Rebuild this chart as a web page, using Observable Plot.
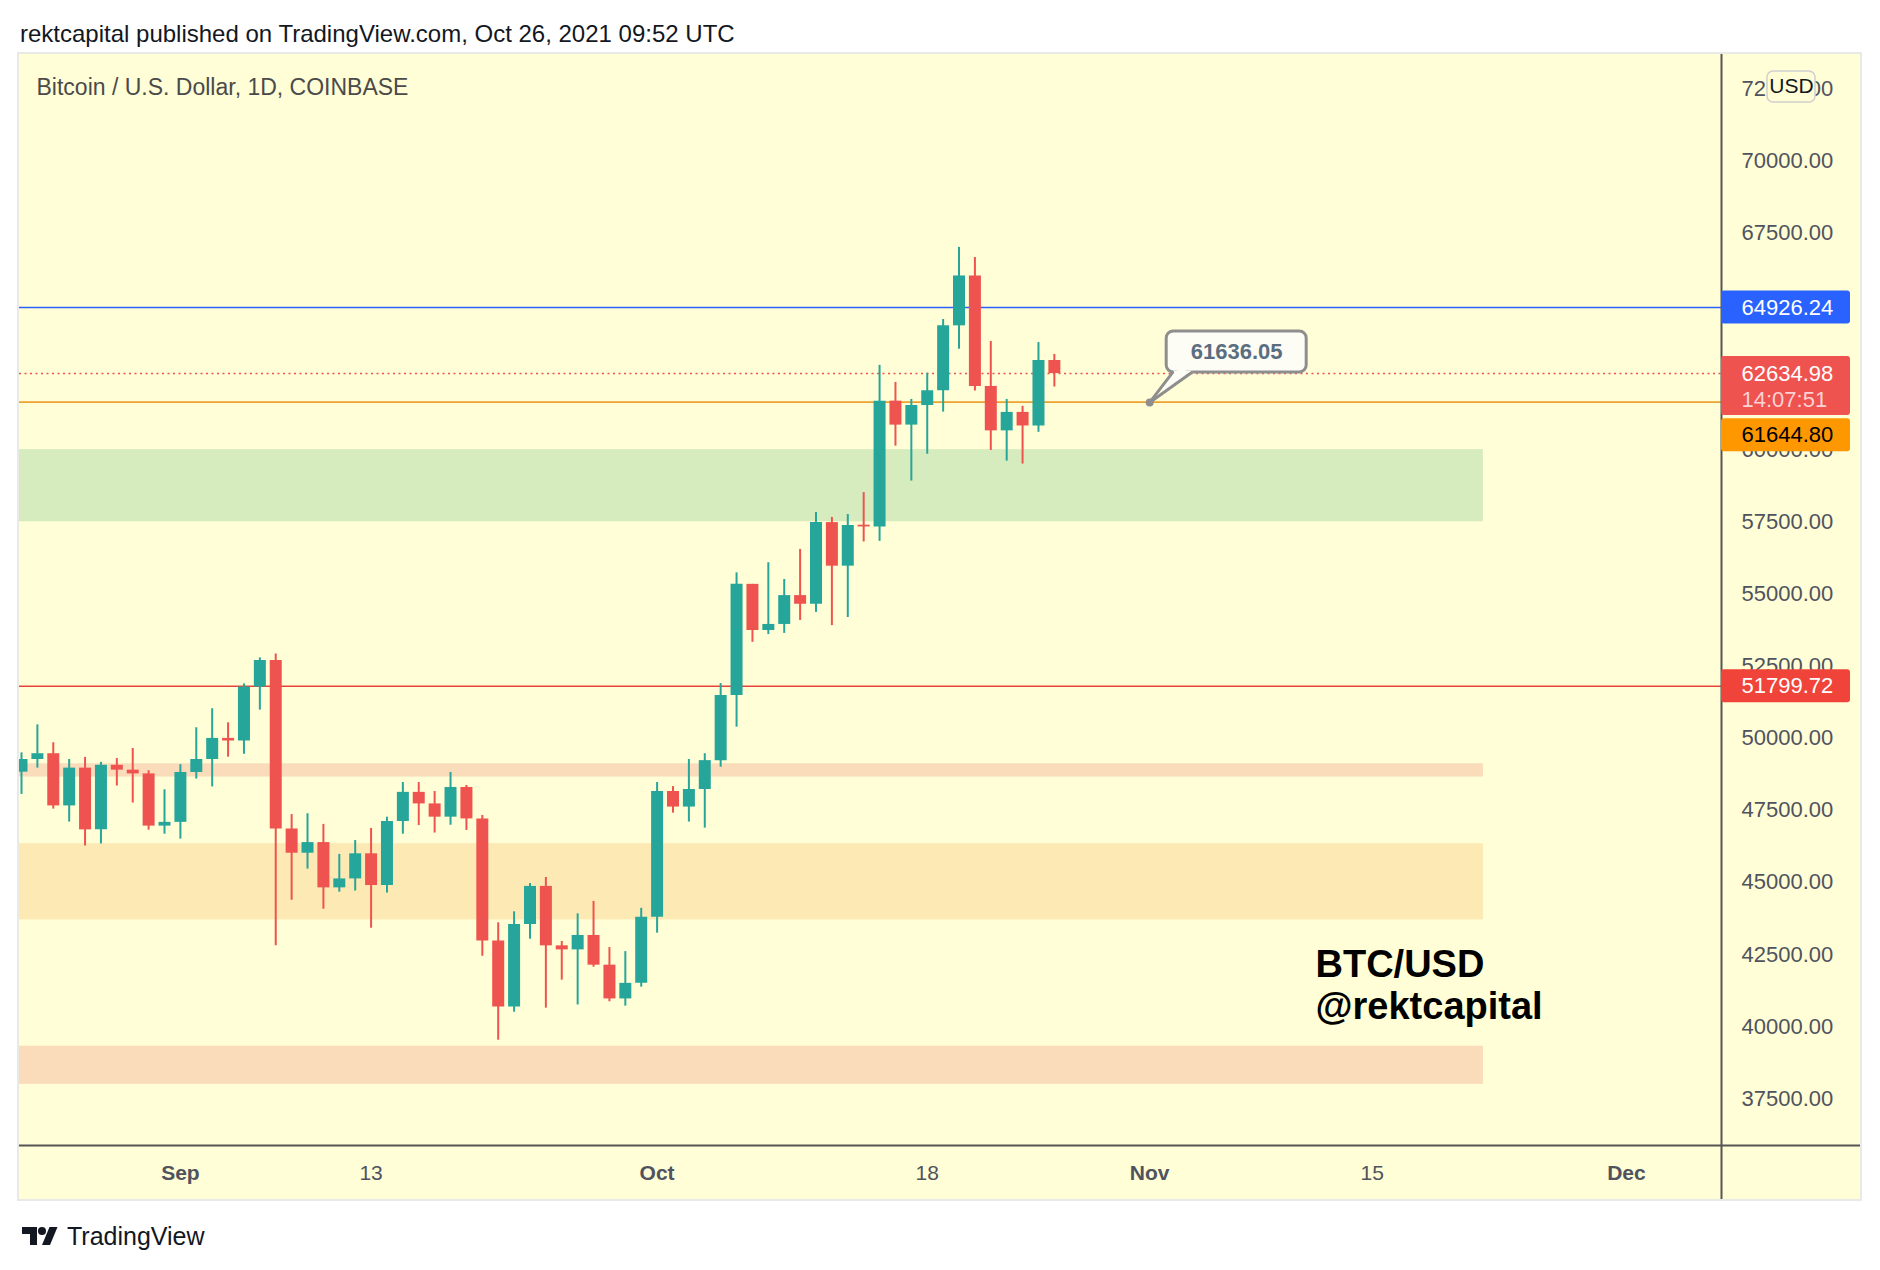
<!DOCTYPE html>
<html><head><meta charset="utf-8">
<script src="https://cdn.jsdelivr.net/npm/d3@7"></script>
<script src="https://cdn.jsdelivr.net/npm/@observablehq/plot@0.6"></script>
<style>
html,body{margin:0;padding:0;background:#fff;}
body{width:1880px;height:1270px;position:relative;overflow:hidden;font-family:"Liberation Sans",Arial,sans-serif;}
#title{position:absolute;left:20px;top:20px;font-size:24px;line-height:28px;color:#131722;white-space:nowrap;}
#chart{position:absolute;left:19px;top:54px;}
#chart svg{display:block;background:#fffed6;box-shadow:0 0 0 2px #e9e9e6;overflow:hidden;}
#footer{position:absolute;left:20px;top:1222px;display:flex;align-items:center;gap:7px;font-size:25px;line-height:28px;color:#131722;}
</style></head><body>
<div id="title">rektcapital published on TradingView.com, Oct 26, 2021 09:52 UTC</div>
<div id="chart"></div>
<div id="footer"><svg width="40" height="18" viewBox="0 4 36 18"><path d="M0 4h15v18h-7V11H0z" fill="#131722"/><circle cx="20" cy="8" r="4" fill="#131722"/><path d="M27.5 4h8L28 22h-8z" fill="#131722"/></svg><span>TradingView</span></div>
<script>
// ---- data ----
const dates = ["2021-08-22","2021-08-23","2021-08-24","2021-08-25","2021-08-26","2021-08-27","2021-08-28","2021-08-29","2021-08-30","2021-08-31",
"2021-09-01","2021-09-02","2021-09-03","2021-09-04","2021-09-05","2021-09-06","2021-09-07","2021-09-08","2021-09-09","2021-09-10",
"2021-09-11","2021-09-12","2021-09-13","2021-09-14","2021-09-15","2021-09-16","2021-09-17","2021-09-18","2021-09-19","2021-09-20",
"2021-09-21","2021-09-22","2021-09-23","2021-09-24","2021-09-25","2021-09-26","2021-09-27","2021-09-28","2021-09-29","2021-09-30",
"2021-10-01","2021-10-02","2021-10-03","2021-10-04","2021-10-05","2021-10-06","2021-10-07","2021-10-08","2021-10-09","2021-10-10",
"2021-10-11","2021-10-12","2021-10-13","2021-10-14","2021-10-15","2021-10-16","2021-10-17","2021-10-18","2021-10-19","2021-10-20",
"2021-10-21","2021-10-22","2021-10-23","2021-10-24","2021-10-25","2021-10-26"];
const opens = [48820,49260,49460,47650,48960,46820,49060,48890,48760,46950,
47080,48810,49260,49990,49900,51770,52690,46850,46010,46380,
44810,45120,45990,44890,47110,48120,47720,47260,48290,47200,
42970,40680,43540,44860,42800,42660,43160,42130,40960,41500,
43790,48150,47610,48220,49220,51480,55330,53730,53940,54940,
54640,57470,55960,57380,57320,61680,60850,61530,62040,64290,
66020,62190,60650,61290,60820,63090];
const highs = [49490,50460,49840,49260,49330,49160,49290,49640,48870,48210,
49080,50360,51020,50530,51880,52780,52920,47350,47380,47010,
45970,46450,46870,47260,48460,48460,48150,48810,48360,47320,
43600,43980,44960,45170,42950,43910,44340,42740,42600,44100,
48460,48320,49260,49460,51890,55730,55330,56080,55500,56540,
57820,57650,57750,58510,62920,62330,61740,62650,64510,67010,
66660,63750,61740,61500,63710,63300];
const lows = [48050,48960,47540,47090,46260,46330,48340,47750,46810,46670,
46500,48580,48310,49340,49440,50970,42800,44380,45460,44070,
44660,44700,43410,44630,46670,46970,46710,46980,46800,42440,
39530,40500,43030,40640,41610,40750,42060,40860,40710,41370,
43240,47400,47090,46880,48990,50380,53320,53590,53630,54080,
54360,53900,54180,56800,56820,60120,58910,59840,61300,63480,
62030,59970,59600,59500,60600,62170];
const closes = [49260,49460,47650,48960,46820,49060,48890,48760,46950,47080,
48810,49260,49990,49900,51770,52690,46850,46010,46380,44810,
45120,45990,44890,47110,48120,47720,47260,48290,47200,42970,
40680,43540,44860,42800,42660,43160,42130,40960,41500,43790,
48150,47610,48220,49220,51480,55330,53730,53940,54940,54640,
57470,55960,57370,57320,61680,60850,61530,62040,64290,66020,
62190,60650,61290,60820,63090,62634.98];

// price ticks shown by the reference (62500 and 65000 are hidden behind price labels there)
const yTicks = [37500,40000,42500,45000,47500,50000,52500,55000,57500,60000,67500,70000,72500];
const monthTicks = ["2021-09-01","2021-10-01","2021-11-01","2021-12-01"];
const dayTicks = ["2021-09-13","2021-10-18","2021-11-15"];

const zoneLow  = [57500, 48650, 43700, 38000];
const zoneHigh = [60000, 49110, 46340, 39320];
const zoneKind = ["support","thin","range","thin"];
const zoneEnd = "2021-11-22";

const levelValues = [64926.24, 51799.72, 61644.80];
const levelKind = ["blue","red","orange"];
const lastPrice = 62634.98;
const countdown = "14:07:51";
const calloutDate = "2021-11-01";
const calloutPrice = 61636.05;
const chartTitle = "Bitcoin / U.S. Dollar, 1D, COINBASE";
const watermark = ["BTC/USD", "@rektcapital"];

// ---- styles ----
const UP = "#26a69a", DOWN = "#ef5350";
const zoneFill = {support: "#d6ecbf", thin: "#fadcbb", range: "#fde9b3"};
const levelColor = {blue: "#2962ff", red: "#e8433a", orange: "#eca22e"};
const levelBox = {blue: "#2962ff", red: "#f0443a", orange: "#ff9800"};
const levelText = {blue: "#ffffff", red: "#ffffff", orange: "#000000"};
const AXIS = "#50535e";
const FONT = '"Liberation Sans", Arial, sans-serif';

const fmt = d3.format(".2f");
const candles = dates.map((d, i) => ({date: new Date(d), open: opens[i], high: highs[i], low: lows[i], close: closes[i]}));
const ups = candles.filter(c => c.close >= c.open);
const downs = candles.filter(c => c.close < c.open);
const zones = zoneLow.map((lo, i) => ({low: lo, high: zoneHigh[i], fill: zoneFill[zoneKind[i]]}));

const xDomain = [new Date("2021-08-21T20:59:00Z"), new Date("2021-12-06T23:38:00Z")];
const yDomain = [35879.7, 73695.7];
const xEnd = xDomain[1];
const callout = [{date: new Date(calloutDate), price: calloutPrice}];

function priceLabel(value, box, textColor, dy) {
  return [
    Plot.rect([value], {x1: () => xEnd, x2: () => xEnd, y1: d => d, y2: d => d,
      insetLeft: 0, insetRight: -129, insetTop: -16.5, insetBottom: -16.5, dy, rx: 3, fill: box}),
    Plot.text([value], {x: () => xEnd, y: d => d, text: d => fmt(d), dx: 20, dy, textAnchor: "start",
      fill: textColor, fontSize: 22})
  ];
}

const marks = [
  Plot.rect(zones, {x1: () => xDomain[0], x2: () => new Date(zoneEnd), y1: "low", y2: "high", fill: "fill", clip: true}),
  Plot.ruleY([lastPrice], {stroke: DOWN, strokeWidth: 1.5, strokeDasharray: "2,3.5"}),
  ...levelValues.map((v, i) => Plot.ruleY([v], {stroke: levelColor[levelKind[i]], strokeWidth: 1.6})),
  Plot.ruleX(ups, {x: "date", y1: "low", y2: "high", stroke: UP, strokeWidth: 2, clip: true}),
  Plot.ruleX(downs, {x: "date", y1: "low", y2: "high", stroke: DOWN, strokeWidth: 2, clip: true}),
  Plot.ruleX(ups, {x: "date", y1: "open", y2: "close", stroke: UP, strokeWidth: 12, clip: true}),
  Plot.ruleX(downs, {x: "date", y1: "open", y2: "close", stroke: DOWN, strokeWidth: 12, clip: true}),
  // callout
  Plot.rect(callout, {x1: "date", x2: "date", y1: "price", y2: "price", insetLeft: 17, insetRight: -157,
    insetTop: -71, insetBottom: 30, rx: 7, fill: "#fdfdf6", stroke: "#8e8e8e", strokeWidth: 3}),
  Plot.vector(callout, {x: "date", y: "price", dx: 24, dy: -30, length: 17, rotate: 90, anchor: "start", r: 0,
    stroke: "#fdfdf6", strokeWidth: 4}),
  Plot.vector(callout, {x: "date", y: "price", dx: 32, dy: -30, length: 22, rotate: 226.8, anchor: "start", r: 0,
    stroke: "#fdfdf6", strokeWidth: 9}),
  Plot.vector(callout, {x: "date", y: "price", length: 37.8, rotate: 37.5, anchor: "start", r: 0, stroke: "#8e8e8e", strokeWidth: 3}),
  Plot.vector(callout, {x: "date", y: "price", length: 51.6, rotate: 54.5, anchor: "start", r: 0, stroke: "#8e8e8e", strokeWidth: 3}),
  Plot.dot(callout, {x: "date", y: "price", r: 4, fill: "#8e8e8e"}),
  Plot.text(callout, {x: "date", y: "price", text: d => fmt(d.price), dx: 87, dy: -50, fontWeight: "bold", fontSize: 22, fill: "#5b6e80"}),
  // texts
  Plot.text([chartTitle], {frameAnchor: "top-left", dx: 17, dy: 33.5, textAnchor: "start", lineAnchor: "middle", fontSize: 23, fill: "#4a4a4a"}),
  Plot.text([watermark[0]], {frameAnchor: "top-left", dx: 1296, dy: 922, textAnchor: "start", lineAnchor: "bottom", fontSize: 38, fontWeight: "bold", fill: "#000"}),
  Plot.text([watermark[1]], {frameAnchor: "top-left", dx: 1296, dy: 964, textAnchor: "start", lineAnchor: "bottom", fontSize: 38, fontWeight: "bold", fill: "#000"}),
  // axes
  Plot.axisY(yTicks, {anchor: "right", tickSize: 0, tickPadding: 20, tickFormat: fmt, fontSize: 22, color: AXIS, label: null}),
  Plot.axisX(monthTicks.map(d => new Date(d)), {tickSize: 0, tickPadding: 20, tickFormat: "%b", fontSize: 21, fontWeight: "bold", color: AXIS, label: null}),
  Plot.axisX(dayTicks.map(d => new Date(d)), {tickSize: 0, tickPadding: 20, tickFormat: "%-d", fontSize: 21, color: AXIS, label: null}),
  Plot.ruleX([xEnd], {stroke: "#555", strokeWidth: 2, insetBottom: -54}),
  Plot.ruleY([yDomain[0]], {stroke: "#555", strokeWidth: 2, insetRight: -139}),
  // price labels
  ...priceLabel(levelValues[0], levelBox.blue, levelText.blue, 0),
  ...priceLabel(levelValues[1], levelBox.red, levelText.red, 0),
  Plot.rect([lastPrice], {x1: () => xEnd, x2: () => xEnd, y1: d => d, y2: d => d,
    insetLeft: 0, insetRight: -129, insetTop: -17, insetBottom: -42, rx: 3, fill: DOWN}),
  Plot.text([lastPrice], {x: () => xEnd, y: d => d, text: d => fmt(d), dx: 20, textAnchor: "start", fill: "#fff", fontSize: 22}),
  Plot.text([countdown], {x: () => xEnd, y: () => lastPrice, text: d => d, dx: 20, dy: 26, textAnchor: "start", fill: "#fcd2d2", fontSize: 22}),
  ...priceLabel(levelValues[2], levelBox.orange, levelText.orange, 33),
  // USD badge
  Plot.rect(["USD"], {x1: () => xEnd, x2: () => xEnd, y1: () => yDomain[1], y2: () => yDomain[1],
    insetLeft: 46, insetRight: -94, insetTop: 17, insetBottom: -48, rx: 6, fill: "#fffed6", stroke: "#cfcfcf", strokeWidth: 1.5}),
  Plot.text(["USD"], {x: () => xEnd, y: () => yDomain[1], text: d => d, dx: 70, dy: 32, fontSize: 21, fill: "#131722"})
];

const chart = Plot.plot({
  width: 1841, height: 1145,
  marginLeft: 0, marginRight: 139, marginTop: 0, marginBottom: 54,
  x: {type: "utc", domain: xDomain},
  y: {domain: yDomain},
  color: {type: "identity"},
  style: {fontFamily: FONT, background: "#fffed6", overflow: "hidden"},
  marks
});
document.getElementById("chart").appendChild(chart);
</script>
</body></html>
